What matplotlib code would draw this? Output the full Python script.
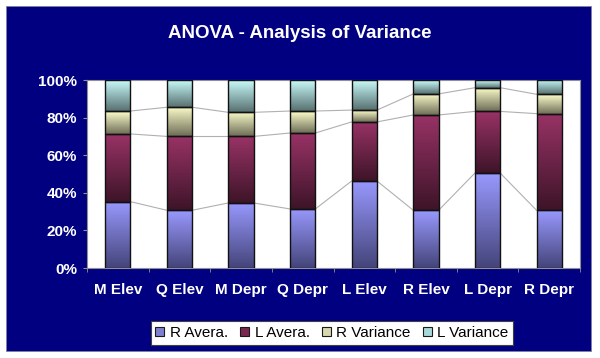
import numpy as np
import matplotlib.pyplot as plt
from matplotlib.patches import Rectangle
from matplotlib.colors import LinearSegmentedColormap

plt.rcParams['font.family'] = ['Liberation Sans', 'DejaVu Sans']

# data (percent of each column)
categories = ['M Elev', 'Q Elev', 'M Depr', 'Q Depr', 'L Elev', 'R Elev', 'L Depr', 'R Depr']
r_avera = [35.3, 30.7, 34.6, 31.4, 46.3, 30.7, 50.5, 30.7]
l_avera = [36.0, 39.3, 35.4, 40.4, 31.4, 50.7, 32.8, 51.4]
r_variance = [12.2, 15.5, 12.8, 11.7, 6.3, 11.2, 12.6, 10.3]
l_variance = [16.5, 14.5, 17.2, 16.5, 16.0, 7.4, 4.1, 7.6]
series_names = ['R Avera.', 'L Avera.', 'R Variance', 'L Variance']

top_colors = ['#9999ff', '#993366', '#ffffcc', '#ccffff']
bottom_colors = ['#44447a', '#3d1428', '#6e6e58', '#587070']
legend_colors = ['#8080d0', '#7a2850', '#d8d8b0', '#a8d8d8']

fig = plt.figure(figsize=(6, 3.58), dpi=100, facecolor='white')
W, H = 600, 358
fig.patches.append(Rectangle((6 / W, 1 - 351 / H), 585 / W, 345 / H,
                             transform=fig.transFigure, facecolor='#000080',
                             edgecolor='#7f7fa0', linewidth=0.6, zorder=-5))

ax = fig.add_axes([87 / W, 1 - 268 / H, (580 - 87) / W, (268 - 80) / H])
ax.set_facecolor('white')

data = np.array([r_avera, l_avera, r_variance, l_variance])
data = data / data.sum(axis=0) * 100
x = np.arange(len(categories))
bw = 0.41
bottoms = np.zeros(len(categories))
grad = np.linspace(0, 1, 256).reshape(-1, 1)
tops_all = []
for k in range(len(series_names)):
    cmap = LinearSegmentedColormap.from_list('g%d' % k, [bottom_colors[k], top_colors[k]])
    for i in range(len(categories)):
        b, h = bottoms[i], data[k][i]
        ax.imshow(grad, extent=[x[i] - bw / 2, x[i] + bw / 2, b, b + h],
                  origin='lower', aspect='auto', cmap=cmap, zorder=2)
        ax.add_patch(Rectangle((x[i] - bw / 2, b), bw, h, fill=False,
                               edgecolor='#111111', linewidth=1.0, zorder=3))
    bottoms = bottoms + data[k]
    tops_all.append(bottoms.copy())

# series lines
for tops in tops_all[:-1]:
    for i in range(len(categories) - 1):
        ax.plot([x[i] + bw / 2, x[i + 1] - bw / 2], [tops[i], tops[i + 1]],
                color='#b0b0b0', linewidth=0.8, zorder=1)

ax.set_xlim(-0.5, len(categories) - 0.5)
ax.set_ylim(0, 100)
ax.set_yticks(np.arange(0, 101, 20))
ax.set_yticklabels(['%d%%' % v for v in range(0, 101, 20)])
ax.set_xticks(x)
ax.set_xticklabels(categories)
ax.set_xticks(np.arange(-0.5, len(categories), 1), minor=True)
ax.tick_params(axis='x', which='major', length=0, pad=11, colors='white', labelsize=11)
ax.tick_params(axis='x', which='minor', length=3, color='#909090', direction='out')
ax.tick_params(axis='y', length=3, color='#909090', colors='white', labelsize=11, pad=4)
for lab in ax.get_xticklabels() + ax.get_yticklabels():
    lab.set_fontweight('bold')
    lab.set_color('white')
for side in ['top', 'right', 'bottom', 'left']:
    ax.spines[side].set_color('#909090')
    ax.spines[side].set_linewidth(0.8)

fig.text(0.5, 1 - 33 / H, 'ANOVA - Analysis of Variance', ha='center', va='center',
         color='white', fontsize=13.5, fontweight='bold')

handles = [Rectangle((0, 0), 1, 1, facecolor=legend_colors[k], edgecolor='#1a1a1a', linewidth=0.8)
           for k in range(len(series_names))]
leg = fig.legend(handles, series_names, loc='center', ncol=4,
                 bbox_to_anchor=(332 / W, 1 - 333 / H), frameon=True, fancybox=False,
                 fontsize=11, handlelength=0.6, handleheight=0.6, handletextpad=0.35,
                 columnspacing=0.8, borderpad=0.3, edgecolor='#404040',
                 facecolor='white', framealpha=1)
leg.get_frame().set_linewidth(0.8)

fig.savefig('out.png', dpi=100, facecolor='white')
